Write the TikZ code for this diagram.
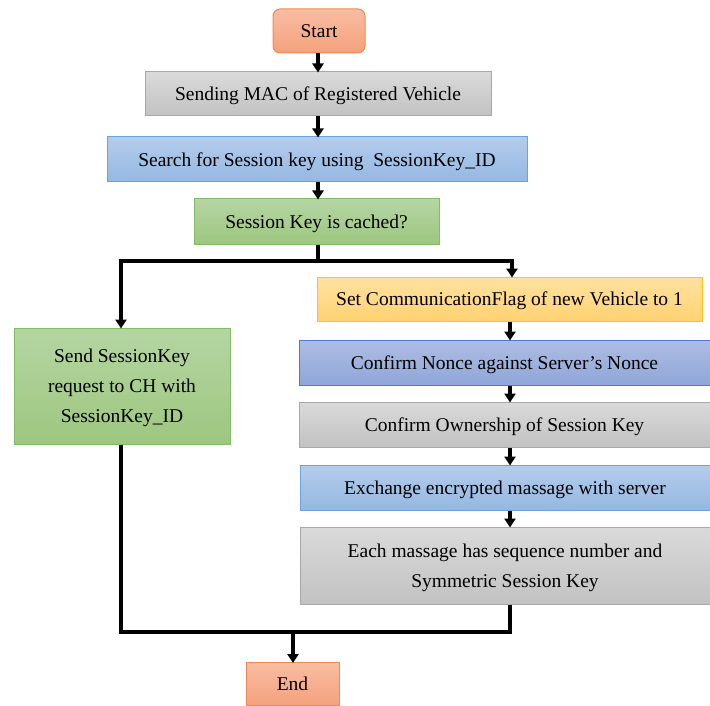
\documentclass[tikz,border=0pt]{standalone}
\usepackage{fontspec}
\setmainfont{Liberation Serif}
\usetikzlibrary{arrows.meta}

\definecolor{grnTop}{HTML}{B5D5A3}
\definecolor{grnBot}{HTML}{9DC77F}
\definecolor{grnLine}{HTML}{84BB67}
\definecolor{bluTop}{HTML}{B4CCEB}
\definecolor{bluBot}{HTML}{94B8E2}
\definecolor{bluLine}{HTML}{6FA2DA}
\definecolor{gryTop}{HTML}{DADADA}
\definecolor{gryBot}{HTML}{C2C2C2}
\definecolor{gryLine}{HTML}{A8A8A8}
\definecolor{orgTop}{HTML}{F9BDA2}
\definecolor{orgBot}{HTML}{F4A17C}
\definecolor{orgLine}{HTML}{EE8A55}
\definecolor{ylwTop}{HTML}{FFE2A0}
\definecolor{ylwBot}{HTML}{FFD272}
\definecolor{ylwLine}{HTML}{FFC21A}
\definecolor{ncTop}{HTML}{AEBDE3}
\definecolor{ncBot}{HTML}{8FA6D9}
\definecolor{ncLine}{HTML}{4F78C8}

\tikzset{
  box/.style={rectangle, draw, line width=1pt, align=center, inner sep=0pt,
    text depth=0pt, font=\fontsize{19.5}{30}\selectfont},
  greenbox/.style={box, top color=grnTop, bottom color=grnBot, draw=grnLine},
  bluebox/.style={box, top color=bluTop, bottom color=bluBot, draw=bluLine},
  graybox/.style={box, top color=gryTop, bottom color=gryBot, draw=gryLine},
  orangebox/.style={box, top color=orgTop, bottom color=orgBot, draw=orgLine},
  yellowbox/.style={box, top color=ylwTop, bottom color=ylwBot, draw=ylwLine},
  noncebox/.style={box, top color=ncTop, bottom color=ncBot, draw=ncLine},
  link/.style={line width=3.3pt, black},
  arr/.style={link, -{Triangle[length=9pt,width=11pt]}, shorten >=-1pt},
}

\begin{document}
\begin{tikzpicture}[x=1pt,y=-1pt]
\useasboundingbox (0,0) rectangle (710,706);

% main column
\node[orangebox, rounded corners=7pt, minimum width=92pt, minimum height=44pt] (start) at (319,31) {Start};
\node[graybox, minimum width=346pt, minimum height=44pt] (mac) at (318,94) {Sending MAC of Registered Vehicle};
\node[bluebox, minimum width=420pt, minimum height=45pt] (search) at (317,159.5) {Search for Session key using\ \ SessionKey\_ID};
\node[greenbox, minimum width=245pt, minimum height=45pt] (cached) at (316.5,221.5) {Session Key is cached?};

% left branch
\node[greenbox, minimum width=216pt, minimum height=116pt] (send) at (122,386) {Send SessionKey\\request to CH with\\SessionKey\_ID};

% right branch
\node[yellowbox, minimum width=385pt, minimum height=44pt] (setflag) at (509.5,299) {Set CommunicationFlag of new Vehicle to 1};
\node[noncebox, minimum width=411pt, minimum height=45pt] (nonce) at (504.5,362.5) {Confirm Nonce against Server’s Nonce};
\node[graybox, minimum width=411pt, minimum height=45pt] (own) at (504.5,424.5) {Confirm Ownership of Session Key};
\node[bluebox, minimum width=410pt, minimum height=45pt] (exch) at (505,487.5) {Exchange encrypted massage with server};
\node[graybox, minimum width=410pt, minimum height=77pt] (each) at (505,565.5) {Each massage has sequence number and\\Symmetric Session Key};

% end
\node[orangebox, minimum width=93pt, minimum height=43pt] (end) at (292.5,684) {End};

% helper points
\coordinate (colM) at (318,0);
\coordinate (colR) at (510,0);
\coordinate (split) at (318,261);
\coordinate (merge) at (293,632);

% connectors
\draw[arr] (start.south -| colM) -- (mac.north -| colM);
\draw[arr] (mac.south -| colM) -- (search.north -| colM);
\draw[arr] (search.south -| colM) -- (cached.north -| colM);
\draw[link] (cached.south -| colM) -- (split);
\draw[arr] (split) -| (send.north -| 121,0);
\draw[arr] (split) -| (setflag.north -| 512,0);
\draw[arr] (setflag.south -| colR) -- (nonce.north -| colR);
\draw[arr] (nonce.south -| colR) -- (own.north -| colR);
\draw[arr] (own.south -| colR) -- (exch.north -| colR);
\draw[arr] (exch.south -| colR) -- (each.north -| colR);
\draw[link] (send.south -| 121,0) |- (merge);
\draw[link] (each.south -| colR) |- (merge);
\draw[arr] (merge) -- (end.north -| merge);
\end{tikzpicture}
\end{document}
